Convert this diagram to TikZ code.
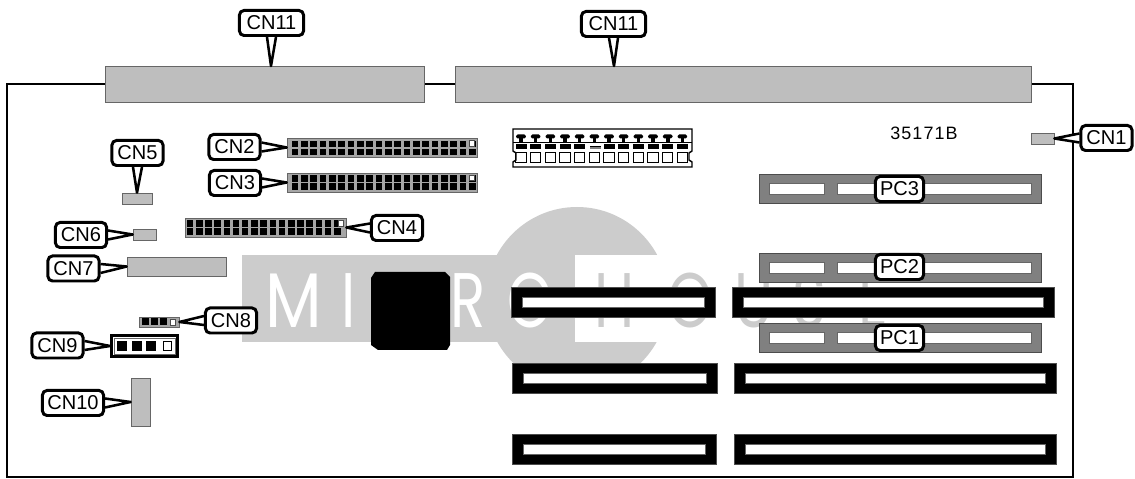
\documentclass[tikz,border=0pt]{standalone}
\usepackage{fontspec}
\usepackage{graphicx}
\setmainfont{Liberation Sans}
\newfontfamily\logofont{Poppins}
\usetikzlibrary{calc,fit}
\pgfdeclarelayer{board}
\pgfdeclarelayer{tails}
\pgfsetlayers{board,tails,main}
\definecolor{connfill}{HTML}{BEBEBE}
\definecolor{connline}{HTML}{666666}
\definecolor{pcfill}{HTML}{808080}
\definecolor{logofill}{HTML}{CCCCCC}
\tikzset{
	conn/.style={draw=connline,fill=connfill,line width=0.22pt,inner sep=0pt},
	pcslot/.style={draw=black!70,fill=pcfill,line width=0.22pt,inner sep=0pt},
	blackslot/.style={draw=black!70,fill=black,line width=0.22pt,inner sep=0pt},
	slotgap/.style={draw=black!60,fill=white,line width=0.22pt},
	header/.style={draw=connline,fill=black!35,line width=0.22pt,inner sep=0pt},
	cnlab/.style={draw,fill=white,line width=0.85pt,rounded corners=0.45mm,inner sep=0pt,
		minimum width=5.1mm,minimum height=2.5mm,font=\fontsize{5.7pt}{6pt}\selectfont},
	cntailline/.style={draw,fill=white,line width=0.72pt,line join=round},
	logowhite/.style={text=white,inner sep=0pt,font=\fontsize{22pt}{24pt}\logofont},
	logogray/.style={text=logofill,inner sep=0pt,font=\fontsize{22pt}{24pt}\logofont},
}
\newcommand{\cntail}[3]{\begin{pgfonlayer}{tails}\draw[cntailline] ($(#1)+(#3)$) -- (#2) -- ($(#1)-(#3)$);\end{pgfonlayer}}
\newcommand{\pinrow}[4]{\foreach \i in {1,...,#3} {
		\fill ({#1+#4*(\i-1)-3.3},{#2-3.1}) rectangle ({#1+#4*(\i-1)+3.3},{#2+3.1});}}
\newcommand{\logochar}[1]{\scalebox{0.75}[1]{#1}}
\begin{document}
\begin{tikzpicture}[x=0.01cm,y=-0.01cm]
	\useasboundingbox (0,0) rectangle (1135,479);
	\begin{pgfonlayer}{board}
		% logo
		\fill[logofill] (577,298) circle (91);
		\fill[logofill] (242,255) rectangle (575,342);
		\fill[white] (575,255) rectangle (670,342);
		\node[logowhite] (logom) at (294,300.5) {\scalebox{0.85}[1]{M}};
		\node[logowhite] (logoi) at (349,300.5) {\logochar{I}};
		\node[logowhite] (logor) at (468,300.5) {\logochar{R}};
		\node[logowhite] (logoo) at (530,300.5) {\logochar{O}};
		\node[logogray] (logoh) at (615,300.5) {\logochar{H}};
		\node[logogray] (logop) at (690,300.5) {\logochar{O}};
		\node[logogray] (logou) at (754,300.5) {\logochar{U}};
		\node[logogray] (logos) at (810,300.5) {\logochar{S}};
		\node[logogray] (logoe) at (873,300.5) {\logochar{E}};
		
		% board outline
		\draw[line width=0.57pt] (7,84) rectangle (1073,477);
		
		% edge connectors
		\node[conn,fit={(105,66) (424,102)}] (cn11a) {};
		\node[conn,fit={(455,66) (1031,102)}] (cn11b) {};
		\coordinate (cn11atip) at (271,66);
		\coordinate (cn11btip) at (614,66);
		
		% plain connectors
		\node[conn,fit={(122,193) (152,204)}] (cn5) {};
		\node[conn,fit={(133,229) (156,240)}] (cn6) {};
		\node[conn,fit={(127,257) (226,276)}] (cn7) {};
		\node[conn,fit={(131,378) (150,426)}] (cn10) {};
		\node[conn,fit={(1031,133) (1054,144)}] (cn1) {};
		
		% pin headers
		\node[header,fit={(287,138) (477,157)}] (cn2) {};
		\pinrow{295}{144}{20}{9.33}
		\pinrow{295}{152}{20}{9.33}
		\node[header,fit={(287,173) (477,192)}] (cn3) {};
		\pinrow{295}{178.5}{20}{9.33}
		\pinrow{295}{186.5}{20}{9.33}
		\node[header,fit={(185,218) (346,237)}] (cn4) {};
		\pinrow{190}{223.5}{17}{9.2}
		\pinrow{190}{231.5}{17}{9.2}
		\foreach \px/\py in {472/143.5,472/178,341/223.5} {
			\draw[fill=white,draw=black!70,line width=0.25pt] ({\px-2.6},{\py-2.6}) rectangle ({\px+2.6},{\py+2.6});
		}
		
		% CN8
		\node[header,fit={(139,317) (179,327)}] (cn8) {};
		\foreach \px in {145,154,163} {
			\fill ({\px-3.5},318.5) rectangle ({\px+3.5},325.5);
		}
		\draw[fill=white,draw=black!70,line width=0.25pt] (170.5,319) rectangle (175.5,325);
		
		% CN9
		\node[draw,line width=0.8pt,fill=white,inner sep=0pt,fit={(111.5,335.5) (177.5,356.5)}] (cn9) {};
		\draw[connline,line width=0.25pt] (114,338) rectangle (175,354);
		\foreach \px in {122,137,151} {
			\fill ({\px-5},341) rectangle ({\px+5},351);
		}
		\draw[draw=black,fill=white,line width=0.25pt] (163,341.5) rectangle (171,350.5);
		
		% memory socket
		\draw[line width=0.4pt,fill=white] (513,129) -- (692,129) -- (692,151) -- (689,153) -- (689,160) -- (692,162)
			-- (692,167) -- (513,167) -- (513,162) -- (516,160) -- (516,153) -- (513,151) -- cycle;
		\draw[line width=0.25pt] (513,142) -- (692,142);
		\foreach \i [evaluate=\i as \px using 521+14.67*\i] in {0,...,11} {
			\fill[rounded corners=0.015cm] ({\px-4.8},134.5) rectangle ({\px+4.8},138.5);
			\fill ({\px-1.8},138) rectangle ({\px+1.8},142);
			\draw[line width=0.3pt] ({\px-5.2},152.5) rectangle ({\px+5.2},162.5);
		}
		\foreach \i [evaluate=\i as \px using 521+14.67*\i] in {0,1,2,3,4,6,7,8,9,10,11} {
			\fill ({\px-5.5},144.5) rectangle ({\px+5.5},149);
		}
		\fill (589.5,146) rectangle (600.5,147.5);
		\fill[black!50] (589.5,147.5) rectangle (600.5,149);
		
		% chip
		\fill (375,272) -- (445,272) -- (450,277) -- (450,345) -- (447,350) -- (378,350) -- (371,345) -- (371,278) -- cycle;
		
		% black slots
		\foreach \sx/\sy/\sw [count=\n] in {511/287/204,732/287/322,512/363/205,734/363/322,512/434/204,734/434/322} {
			\node[blackslot,fit={(\sx,\sy) ({\sx+\sw},{\sy+30})}] (slot\n) {};
			\draw[slotgap] ({\sx+11},{\sy+10}) rectangle ({\sx+\sw-11},{\sy+20.5});
		}
		
		% PC slots
		\foreach \sy/\sname in {174/pc3,253/pc2,323/pc1} {
			\node[pcslot,fit={(759,\sy) (1041,{\sy+29})}] (\sname) {};
			\draw[slotgap] (769,{\sy+9}) rectangle (824,{\sy+20});
			\draw[slotgap] (837,{\sy+9}) rectangle (1031,{\sy+20});
		}
		
		\node[inner sep=0pt,font=\fontsize{5.1pt}{6pt}\selectfont] (partno) at (924,133) {\addfontfeature{LetterSpace=6}35171B};
	\end{pgfonlayer}
	
	% labels
	\node[cnlab,minimum width=6.4mm] (cn11alab) at (271.5,23) {CN11};
	\cntail{cn11alab.south}{cn11atip}{4.5,0}
	\node[cnlab,minimum width=6.4mm] (cn11blab) at (613.5,24) {CN11};
	\cntail{cn11blab.south}{cn11btip}{4.5,0}
	\node[cnlab] (cn1lab) at (1106.5,138) {CN1};
	\cntail{cn1lab.west}{cn1.east}{0,4.5}
	\node[cnlab] (cn2lab) at (234.5,147) {CN2};
	\cntail{cn2lab.east}{cn2.west}{0,4.5}
	\node[cnlab] (cn3lab) at (235,183) {CN3};
	\cntail{cn3lab.east}{cn3.west}{0,4.5}
	\node[cnlab] (cn4lab) at (397,228) {CN4};
	\cntail{cn4lab.west}{cn4.east}{0,4.5}
	\node[cnlab] (cn5lab) at (137.5,153) {CN5};
	\cntail{cn5lab.south}{cn5.north}{4.5,0}
	\node[cnlab] (cn6lab) at (81,235) {CN6};
	\cntail{cn6lab.east}{cn6.west}{0,4.5}
	\node[cnlab] (cn7lab) at (73.5,268.5) {CN7};
	\cntail{cn7lab.east}{cn7.west}{0,4.5}
	\node[cnlab] (cn8lab) at (231,320.5) {CN8};
	\cntail{cn8lab.west}{cn8.east}{0,4.5}
	\node[cnlab] (cn9lab) at (57.5,345.5) {CN9};
	\cntail{cn9lab.east}{cn9.west}{0,4.5}
	\node[cnlab,minimum width=6.1mm] (cn10lab) at (73,403) {CN10};
	\cntail{cn10lab.east}{cn10.west}{0,4.5}
	\node[cnlab,minimum width=4.8mm] (pc3lab) at (899.5,189) {PC3};
	\node[cnlab,minimum width=4.8mm] (pc2lab) at (899.5,267) {PC2};
	\node[cnlab,minimum width=4.8mm] (pc1lab) at (899.5,338) {PC1};
\end{tikzpicture}
\end{document}
